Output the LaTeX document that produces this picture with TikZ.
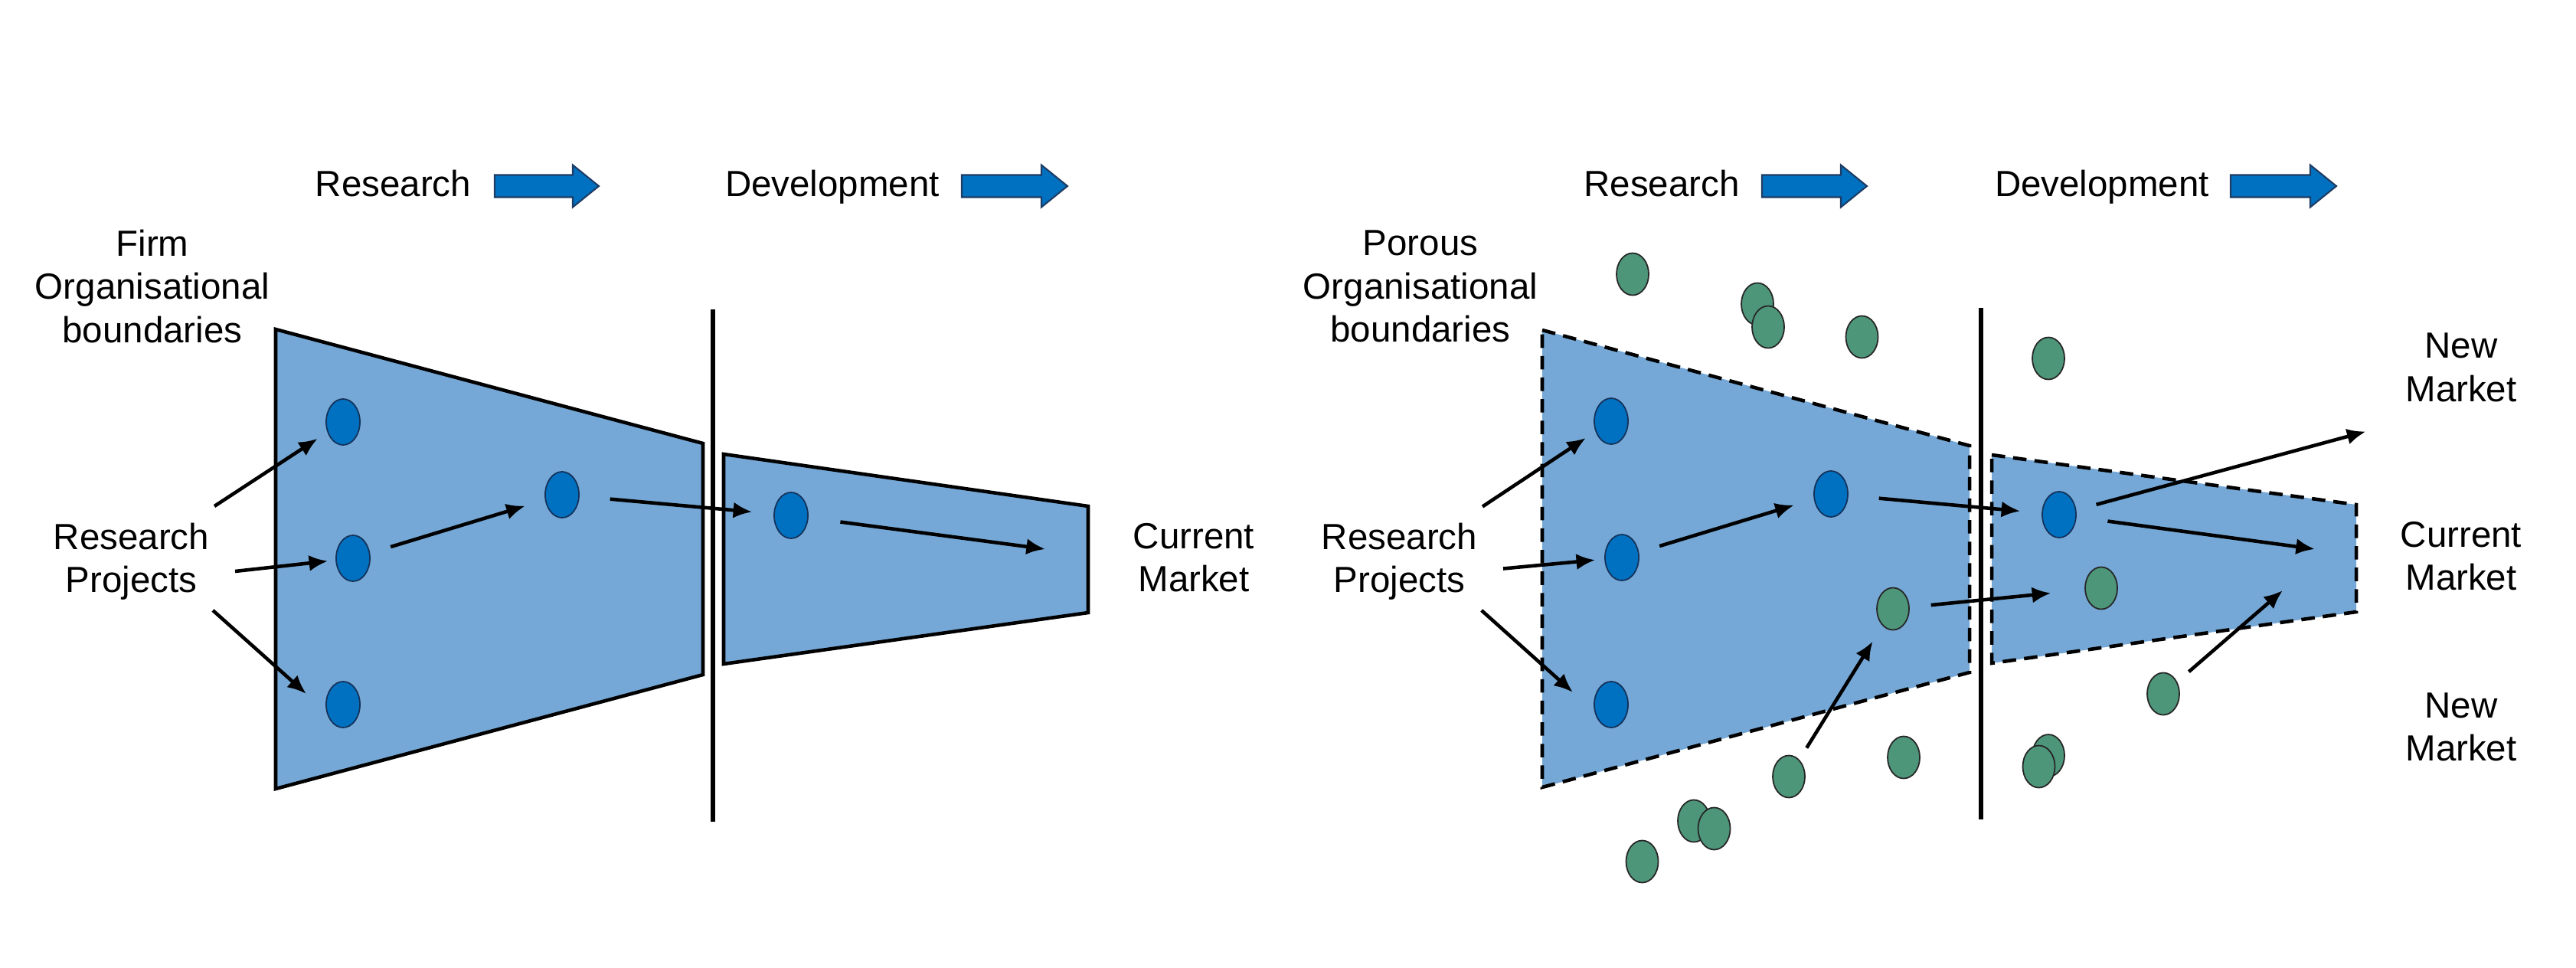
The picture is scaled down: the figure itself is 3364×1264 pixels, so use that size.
\documentclass[tikz,border=0pt]{standalone}
\usepackage{fontspec}
\setmainfont{Liberation Sans}
\usetikzlibrary{arrows.meta,shapes.geometric,calc}
\definecolor{trapfill}{RGB}{117,168,214}
\definecolor{dotblue}{RGB}{0,112,192}
\definecolor{dotgreen}{RGB}{78,150,122}
\definecolor{dotedge}{RGB}{20,50,90}
\definecolor{arrowedge}{RGB}{30,60,100}
\newcommand\myblockarrow[3]{%
  \draw[blockarrow] (#1,#3-14.5) -- (#2-34,#3-14.5) -- (#2-34,#3-27.5) -- (#2,#3)
    -- (#2-34,#3+27.5) -- (#2-34,#3+14.5) -- (#1,#3+14.5) -- cycle;}
\begin{document}
\begin{tikzpicture}[x=0.01cm,y=-0.01cm,
  lbl/.style={font=\fontsize{13.5}{16}\selectfont, align=center, inner sep=0pt},
  bdot/.style={ellipse, draw=dotedge, line width=0.5pt, fill=dotblue, minimum width=0.44cm, minimum height=0.6cm, inner sep=0pt},
  gdot/.style={ellipse, draw=black!85, line width=0.5pt, fill=dotgreen, minimum width=0.42cm, minimum height=0.55cm, inner sep=0pt},
  conn/.style={line width=1.3pt, -{Latex[length=7pt,width=6pt]}},
  funnel/.style={fill=trapfill, draw=black, line width=1.3pt, line join=miter},
  porous/.style={fill=trapfill, draw=black, line width=1.3pt, dash pattern=on 5pt off 3pt},
  divider/.style={line width=1.5pt},
  blockarrow/.style={fill=dotblue, draw=arrowedge, line width=0.6pt}
]
\useasboundingbox (0,0) rectangle (3364,1264);
\fill[white] (0,0) rectangle (3364,1264);

% ---------- LEFT PANEL ----------
\node[lbl, anchor=base] (resL) at (513.5,257) {Research};
\myblockarrow{646}{782}{243}
\node[lbl, anchor=base] (devL) at (1087,257) {Development};
\myblockarrow{1256}{1394}{243}

\node[lbl] (firm) at (199,374) {Firm\\Organisational\\boundaries};
\node[lbl] (rpL) at (171.5,733) {Research\\Projects};
\node[lbl] (cmLlbl) at (1559,728) {Current\\Market};

\draw[funnel] (360,430) -- (918,579) -- (918,881) -- (360,1030) -- cycle;
\draw[funnel] (945,593) -- (1421,661) -- (1421,800) -- (945,867) -- cycle;
\draw[divider] (931,404) -- (931,1073);

\node[bdot] (a1) at (448,551) {};
\node[bdot] (a2) at (461,729) {};
\node[bdot] (a3) at (448,920) {};
\node[bdot] (a4) at (734,646) {};
\node[bdot] (a5) at (1033,673) {};

\coordinate (rp1s) at (280,661);
\coordinate (rp2s) at (307,746);
\coordinate (rp3s) at (278,797);
\coordinate (rp3e) at (400,906);
\coordinate (cmL) at (1365,717);

\draw[conn, shorten >=0.15cm] (rp1s) -- (a1);
\draw[conn, shorten >=0.1cm] (rp2s) -- (a2);
\draw[conn] (rp3s) -- (rp3e);
\draw[conn, shorten <=0.28cm, shorten >=0.27cm] (a2) -- (a4);
\draw[conn, shorten <=0.4cm, shorten >=0.28cm] (a4) -- (a5);
\draw[conn, shorten <=0.42cm] (a5) -- (cmL);

% ---------- RIGHT PANEL ----------
\node[lbl, anchor=base] (resR) at (2170,257) {Research};
\myblockarrow{2301}{2438}{243}
\node[lbl, anchor=base] (devR) at (2745,257) {Development};
\myblockarrow{2913}{3051}{243}

\node[lbl] (porous) at (1855,374) {Porous\\Organisational\\boundaries};
\node[lbl] (rpR) at (1827.5,733) {Research\\Projects};
\node[lbl] (nmU) at (3214,480) {New\\Market};
\node[lbl] (cmRlbl) at (3214,726) {Current\\Market};
\node[lbl] (nmD) at (3214,949.5) {New\\Market};

\draw[porous] (2014,431) -- (2572,582) -- (2572,878) -- (2014,1028) -- cycle;
\draw[porous] (2601,594) -- (3077,659) -- (3077,799) -- (2601,866) -- cycle;
\draw[divider] (2587,402) -- (2587,1070);

\node[bdot] (b1) at (2104,550) {};
\node[bdot] (b2) at (2118,728) {};
\node[bdot] (b3) at (2104,920) {};
\node[bdot] (b4) at (2391,645) {};
\node[bdot] (b5) at (2689,672) {};

\node[gdot] (g1) at (2132,358) {};
\node[gdot] (g2) at (2295,397) {};
\node[gdot] (g3) at (2309,427) {};
\node[gdot] (g4) at (2431.5,440) {};
\node[gdot] (g5) at (2472,795) {};
\node[gdot] (g6) at (2336,1014) {};
\node[gdot] (g7) at (2486,989) {};
\node[gdot] (g8) at (2212,1072) {};
\node[gdot] (g9) at (2238.5,1082) {};
\node[gdot] (g10) at (2144.5,1125) {};
\node[gdot] (g11) at (2675,468) {};
\node[gdot] (g12) at (2744,768) {};
\node[gdot] (g13) at (2825,906) {};
\node[gdot] (g14) at (2675,986.6) {};
\node[gdot] (g15) at (2662.5,1001) {};

\coordinate (rq1s) at (1936,661.5);
\coordinate (rq2s) at (1963,742.5);
\coordinate (rq3s) at (1934.7,797);
\coordinate (rq3e) at (2054,904);
\coordinate (nmUe) at (3089.5,563.5);
\coordinate (cmRe) at (3023,717);
\coordinate (cmRe2) at (2981,771);

\draw[conn, shorten >=0.15cm] (rq1s) -- (b1);
\draw[conn, shorten >=0.12cm] (rq2s) -- (b2);
\draw[conn] (rq3s) -- (rq3e);
\draw[conn, shorten <=0.28cm, shorten >=0.27cm] (b2) -- (b4);
\draw[conn, shorten <=0.4cm, shorten >=0.28cm] (b4) -- (b5);
\draw[conn, shorten <=0.28cm, shorten >=0.44cm] (g5) -- (g12);
\draw[conn, shorten <=0.18cm, shorten >=0.24cm] (g6) -- (g5);
\draw[conn, shorten <=0.27cm] (b5) -- (nmUe);
\draw[conn, shorten <=0.41cm] (b5) -- (cmRe);
\draw[conn, shorten <=0.2cm] (g13) -- (cmRe2);
\end{tikzpicture}
\end{document}
